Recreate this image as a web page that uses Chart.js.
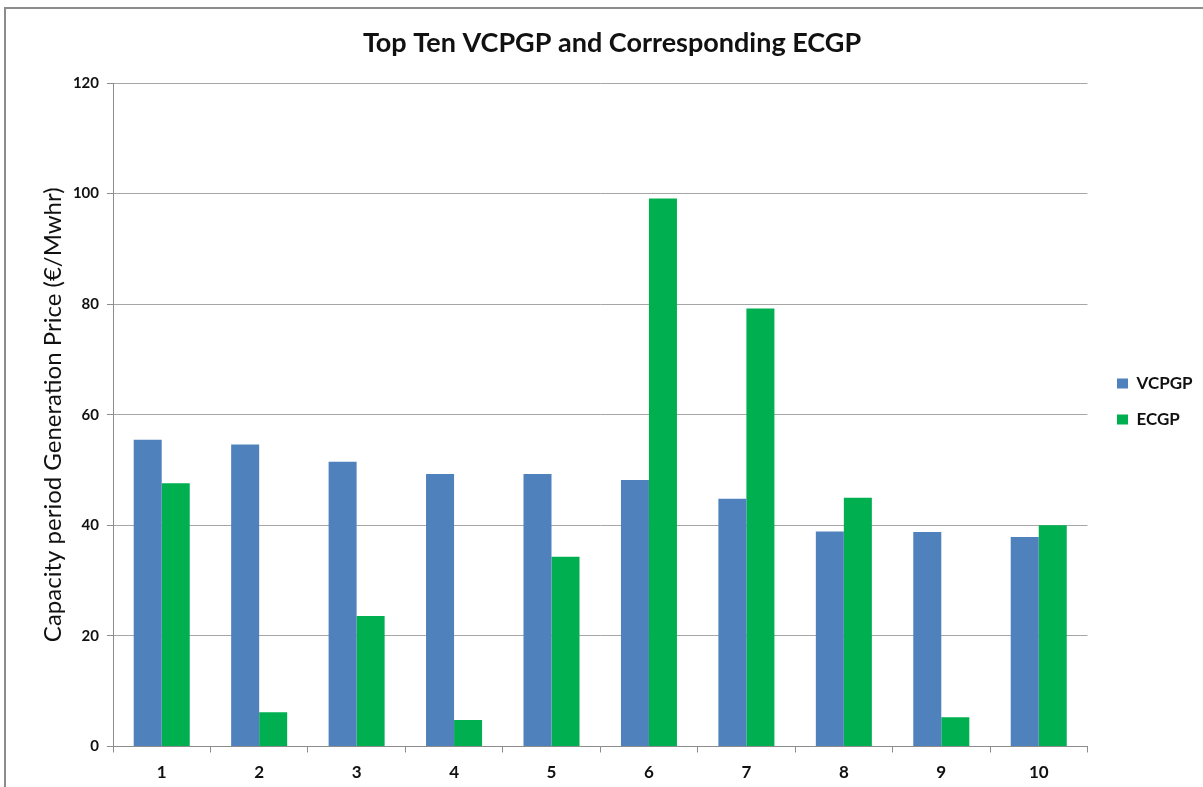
<!DOCTYPE html>
<html>
<head>
<meta charset="utf-8">
<script src="https://cdn.jsdelivr.net/npm/chart.js@4/dist/chart.umd.min.js"></script>
<style>
  html, body { margin: 0; padding: 0; background: #fff; }
  #wrap { position: relative; width: 1203px; height: 787px; }
  #frame { position: absolute; left: 4px; top: 7px; right: -10px; bottom: -10px;
           border-top: 2px solid #8c8c8c; border-left: 2px solid #8c8c8c; pointer-events: none; }
  canvas { position: absolute; left: 0; top: 0; }
</style>
</head>
<body>
<div id="wrap">
  <div id="frame"></div>
  <canvas id="c" width="1203" height="787"></canvas>
</div>
<script>
// ---- data ----
const categories = ['1', '2', '3', '4', '5', '6', '7', '8', '9', '10'];
const vcpgp = [55.5, 54.6, 51.5, 49.3, 49.3, 48.2, 44.8, 38.9, 38.8, 37.9];
const ecgp  = [47.6, 6.2, 23.6, 4.8, 34.3, 99.1, 79.2, 45.0, 5.3, 40.0];
const seriesNames = ['VCPGP', 'ECGP'];
const yTicks = [0, 20, 40, 60, 80, 100, 120];
const chartTitle = 'Top Ten VCPGP and Corresponding ECGP';
const yTitle = 'Capacity period Generation Price (€/Mwhr)';

const FONT = 'Lato, "Open Sans", sans-serif';
const LEG_BOX_X = 1117;
const LEG_TOP = 356;

const legendNudge = {
  id: 'legendNudge',
  afterLayout(chart) {
    const lg = chart.legend;
    if (!lg) return;
    const pad = lg.options.labels.padding;
    const dx = LEG_BOX_X - (lg.left + pad);
    lg.left += dx; lg.right += dx;
    const h = lg.bottom - lg.top;
    lg.top = LEG_TOP; lg.bottom = LEG_TOP + h;
  }
};

new Chart(document.getElementById('c'), {
  type: 'bar',
  data: {
    labels: categories,
    datasets: [
      { label: seriesNames[0], data: vcpgp, backgroundColor: '#4F81BD', borderWidth: 0 },
      { label: seriesNames[1], data: ecgp, backgroundColor: '#00B050', borderWidth: 0 }
    ]
  },
  options: {
    responsive: false,
    animation: false,
    layout: { padding: { left: 32, right: 11, top: 0, bottom: 0 } },
    datasets: { bar: { categoryPercentage: 0.575, barPercentage: 1.0 } },
    plugins: {
      title: {
        display: true, text: chartTitle, color: '#111',
        font: { family: FONT, size: 27, weight: 'bold' },
        padding: { top: 27, bottom: 23.6 }
      },
      legend: {
        display: true, position: 'right', align: 'start',
        labels: {
          color: '#111', boxWidth: 11, boxHeight: 10, padding: 19,
          font: { family: FONT, size: 17, weight: 'bold' }
        }
      },
      tooltip: { enabled: false }
    },
    scales: {
      x: {
        grid: { display: true, drawOnChartArea: false, drawTicks: true, tickLength: 6, color: '#8c8c8c', offset: true },
        border: { display: true, color: '#8c8c8c', width: 1 },
        ticks: { color: '#111', padding: 10, font: { family: FONT, size: 17, weight: 'bold' } },
        afterFit(s) { s.height = 40.5; }
      },
      y: {
        min: 0, max: 120,
        afterBuildTicks(s) { s.ticks = yTicks.map(v => ({ value: v })); },
        grid: { color: '#a6a6a6', lineWidth: 1, drawTicks: true, tickLength: 6, tickColor: '#8c8c8c' },
        border: { display: true, color: '#8c8c8c', width: 1 },
        ticks: { color: '#111', padding: 8, font: { family: FONT, size: 15, weight: 'bold' } },
        title: {
          display: true, text: yTitle, color: '#111',
          font: { family: FONT, size: 24, weight: 'normal' },
          padding: { top: 7, bottom: 0 }
        },
        afterFit(s) { s.width = 81; }
      }
    }
  },
  plugins: [legendNudge]
});
</script>
</body>
</html>
